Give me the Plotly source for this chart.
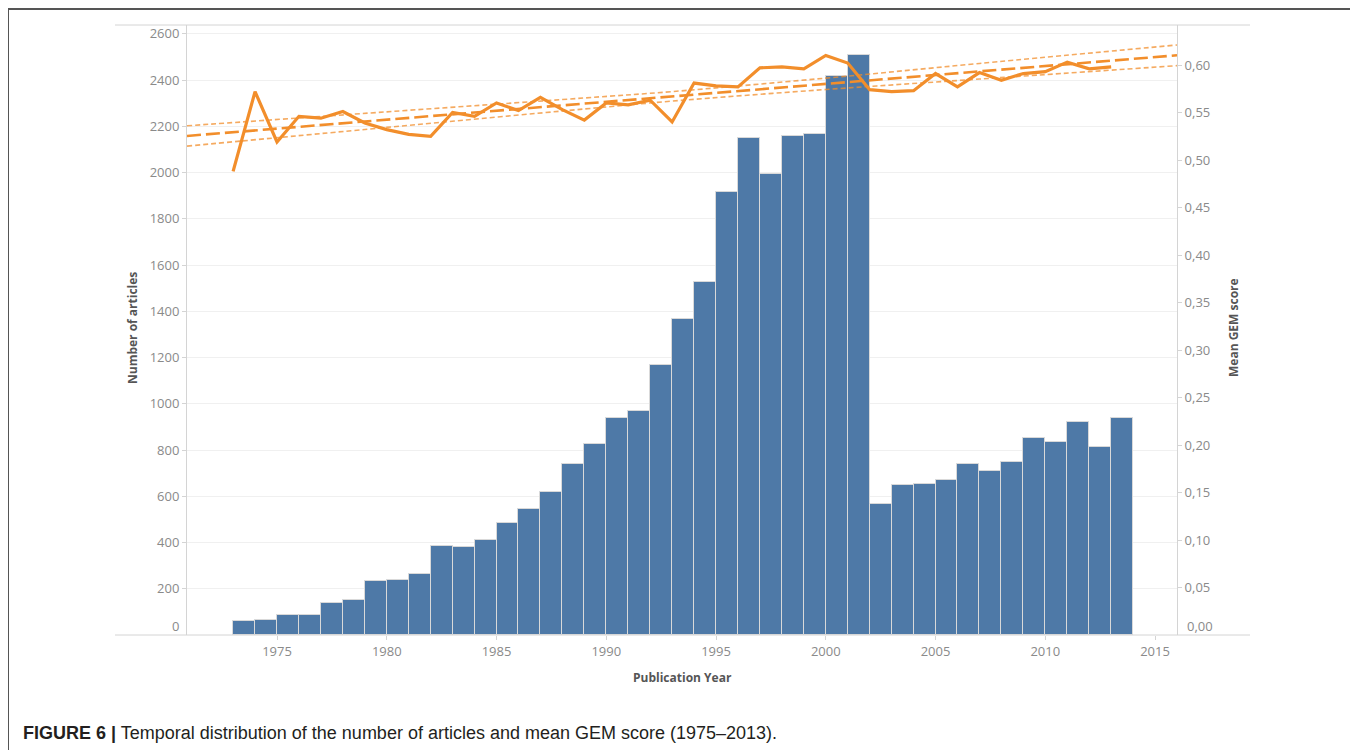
import plotly.graph_objects as go

# ---------------- data ----------------
years = list(range(1973, 2014))
articles = [59, 64, 88, 88, 137, 150, 235, 239, 264, 386,
            381, 411, 486, 544, 620, 738, 827, 938, 969, 1168,
            1367, 1527, 1916, 2148, 1994, 2160, 2166, 2418, 2509, 567,
            648, 653, 671, 740, 709, 748, 852, 834, 922, 814,
            938]
gem_score = [0.488, 0.572, 0.519, 0.546, 0.544, 0.551, 0.539, 0.532, 0.527, 0.525,
             0.550, 0.546, 0.560, 0.552, 0.566, 0.553, 0.542, 0.560, 0.558, 0.563,
             0.540, 0.581, 0.578, 0.577, 0.597, 0.598, 0.596, 0.610, 0.602, 0.574,
             0.572, 0.573, 0.591, 0.577, 0.592, 0.584, 0.591, 0.593, 0.603, 0.596,
             0.598]

# trend line and its confidence band
trend_x = [1970.9, 1980, 1989, 1993, 2000, 2007, 2016.0]
trend_mid = [0.5253, 0.5425, 0.5595, 0.5670, 0.5802, 0.5934, 0.6102]
trend_upper = [0.5360, 0.5507, 0.5653, 0.5720, 0.5862, 0.6016, 0.6211]
trend_lower = [0.5146, 0.5343, 0.5537, 0.5620, 0.5742, 0.5852, 0.5993]

x_ticks = [1975, 1980, 1985, 1990, 1995, 2000, 2005, 2010, 2015]
y_ticks = [200, 400, 600, 800, 1000, 1200, 1400, 1600, 1800, 2000, 2200, 2400, 2600]
y2_ticks = [0.05, 0.10, 0.15, 0.20, 0.25, 0.30, 0.35, 0.40, 0.45, 0.50, 0.55, 0.60]
y2_ticktext = ["0,05", "0,10", "0,15", "0,20", "0,25", "0,30", "0,35", "0,40",
               "0,45", "0,50", "0,55", "0,60"]

# ---------------- styling ----------------
BLUE = "#4e79a7"
ORANGE = "#f28e2b"
LIGHT_OR = "rgba(242,142,43,0.75)"
TICK_COL = "#8a8a8a"
AX_COL = "#d4d4d4"
FONT = "Open Sans"

fig = go.Figure()

fig.add_trace(go.Bar(
    x=[y + 0.5 for y in years], y=articles, width=1.0,
    marker=dict(color=BLUE, line=dict(color="#d9d9d9", width=1)),
    yaxis="y", showlegend=False,
))

fig.add_trace(go.Scatter(
    x=trend_x, y=trend_upper, mode="lines", yaxis="y2",
    line=dict(color=LIGHT_OR, width=1.6, dash="5px,3px", shape="spline"),
    showlegend=False,
))
fig.add_trace(go.Scatter(
    x=trend_x, y=trend_lower, mode="lines", yaxis="y2",
    line=dict(color=LIGHT_OR, width=1.6, dash="5px,3px", shape="spline"),
    showlegend=False,
))
fig.add_trace(go.Scatter(
    x=trend_x, y=trend_mid, mode="lines", yaxis="y2",
    line=dict(color=ORANGE, width=2.6, dash="14px,5px"),
    showlegend=False,
))
fig.add_trace(go.Scatter(
    x=years, y=gem_score, mode="lines", yaxis="y2",
    line=dict(color=ORANGE, width=3.2),
    showlegend=False,
))

# page has an 8px body margin: the figure starts at (8, 8)
OFF = 8
W, H = 1358 - OFF, 750 - OFF
PL, PR, PT, PB = 187, 1177, 25, 635          # plot area in page pixels
L, T = PL - OFF, PT - OFF
R = W - (PR - OFF)
B = H - (PB - OFF)
pw, ph = PR - PL, PB - PT


def px(xpix):
    return (xpix - PL) / pw


def py(ypix):
    return (PB - ypix) / ph


fig.update_layout(
    width=W, height=H,
    margin=dict(l=L, r=R, t=T, b=B),
    plot_bgcolor="white", paper_bgcolor="white",
    bargap=0,
    font=dict(family=FONT, color=TICK_COL, size=13),
    xaxis=dict(
        range=[1970.9, 2016.0], tickvals=x_ticks, ticktext=[str(v) for v in x_ticks],
        showgrid=False, zeroline=False, showline=False,
        ticks="outside", ticklen=4, tickcolor=AX_COL,
        tickfont=dict(family=FONT, size=13, color=TICK_COL),
    ),
    yaxis=dict(
        range=[0, 2638], tickvals=y_ticks, ticktext=[str(v) for v in y_ticks],
        showgrid=True, gridcolor="#f0f0f0", gridwidth=1, zeroline=False,
        showline=True, linecolor=AX_COL, linewidth=1,
        ticks="outside", ticklen=4, tickcolor=AX_COL,
        tickfont=dict(family=FONT, size=13, color=TICK_COL),
    ),
    yaxis2=dict(
        range=[0, 0.6421], overlaying="y", side="right",
        tickvals=y2_ticks, ticktext=y2_ticktext,
        showgrid=False, zeroline=False,
        showline=True, linecolor=AX_COL, linewidth=1,
        ticks="outside", ticklen=4, tickcolor=AX_COL,
        tickfont=dict(family=FONT, size=13, color=TICK_COL),
    ),
)

shapes = [
    # pane top and bottom rules extending beyond the axes
    dict(type="line", xref="paper", yref="paper", x0=px(115), x1=px(1250), y0=1, y1=1,
         line=dict(color=AX_COL, width=1)),
    dict(type="line", xref="paper", yref="paper", x0=px(115), x1=px(1250), y0=0, y1=0,
         line=dict(color=AX_COL, width=1)),
    # figure frame (left, top, right)
    dict(type="line", xref="paper", yref="paper", x0=px(8), x1=px(8), y0=py(9), y1=py(760),
         line=dict(color="#555555", width=2)),
    dict(type="line", xref="paper", yref="paper", x0=px(8), x1=px(1355), y0=py(9), y1=py(9),
         line=dict(color="#555555", width=2)),
    dict(type="line", xref="paper", yref="paper", x0=px(1355), x1=px(1355), y0=py(9), y1=py(760),
         line=dict(color="#555555", width=2)),
]
fig.update_layout(shapes=shapes)

title_font = dict(family=FONT, size=12, color="#555555", weight="bold")
annotations = [
    dict(text="Number of articles", xref="paper", yref="paper", x=px(132), y=py(328),
         textangle=-90, showarrow=False, font=title_font, xanchor="center", yanchor="middle"),
    dict(text="Mean GEM score", xref="paper", yref="paper", x=px(1233), y=py(328),
         textangle=-90, showarrow=False, font=title_font, xanchor="center", yanchor="middle"),
    dict(text="Publication Year", xref="paper", yref="paper", x=px(682), y=py(677),
         showarrow=False, font=title_font, xanchor="center", yanchor="middle"),
    # zero labels sit slightly above the baseline, as in the original
    dict(text="0", xref="paper", yref="paper", x=px(181), y=py(626), showarrow=False,
         xanchor="right", yanchor="middle", font=dict(family=FONT, size=13, color=TICK_COL)),
    dict(text="0,00", xref="paper", yref="paper", x=px(1185), y=py(626), showarrow=False,
         xanchor="left", yanchor="middle", font=dict(family=FONT, size=13, color=TICK_COL)),
    dict(text="<b>FIGURE 6 |</b> Temporal distribution of the number of articles and mean GEM score (1975–2013).",
         xref="paper", yref="paper", x=px(21), y=py(733), showarrow=False,
         xanchor="left", yanchor="middle",
         font=dict(family="Liberation Sans Narrow, Liberation Sans, Arial", size=18, color="#231f20")),
]
fig.update_layout(annotations=annotations)

fig.write_html("out.html")
